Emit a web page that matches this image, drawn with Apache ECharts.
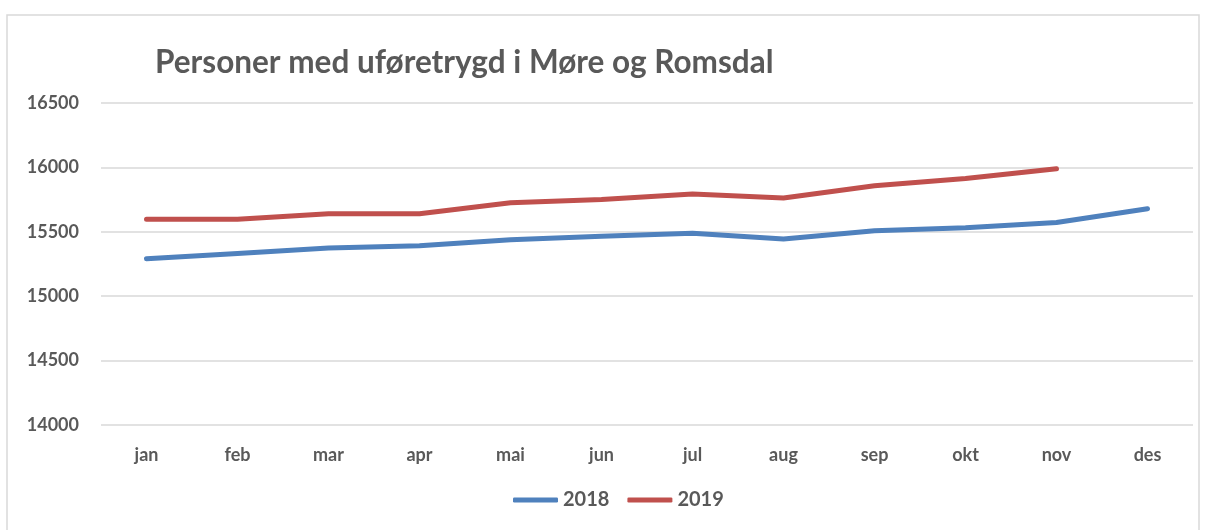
<!DOCTYPE html>
<html>
<head>
<meta charset="utf-8">
<script src="https://cdn.jsdelivr.net/npm/echarts@6/dist/echarts.min.js"></script>
<style>
  html, body { margin: 0; padding: 0; background: #fff; }
  #chart { width: 1205px; height: 530px; }
</style>
</head>
<body>
<div id="chart"></div>
<script>
const months = ['jan', 'feb', 'mar', 'apr', 'mai', 'jun', 'jul', 'aug', 'sep', 'okt', 'nov', 'des'];
const data2018 = [15290, 15332, 15375, 15392, 15438, 15465, 15488, 15444, 15508, 15531, 15572, 15679];
const data2019 = [15597, 15597, 15640, 15640, 15725, 15750, 15794, 15763, 15857, 15913, 15990, null];
const yTicks = [14000, 14500, 15000, 15500, 16000, 16500];

(function () {
    const myChart = echarts.init(document.getElementById('chart'));
    const textColor = '#595959';
    const font = 'Lato';

    const option = {
        animation: false,
        title: {
            text: 'Personer med uføretrygd i Møre og Romsdal',
            left: 150,
            top: 42,
            textStyle: { color: textColor, fontSize: 31.5, fontWeight: 'bold', fontFamily: font }
        },
        graphic: [{
            type: 'rect',
            shape: { x: 7, y: 15, width: 1192, height: 530 },
            style: { fill: 'none', stroke: '#d9d9d9', lineWidth: 1.5 },
            silent: true
        }],
        legend: {
            bottom: 15,
            left: 508,
            itemWidth: 45,
            itemHeight: 5,
            itemGap: 18,
            icon: 'roundRect',
            textStyle: { color: textColor, fontSize: 20, fontWeight: 'bold', fontFamily: font },
            data: ['2018', '2019']
        },
        grid: { left: 101, right: 12, top: 103, bottom: 105 },
        xAxis: {
            type: 'category',
            data: months,
            axisLine: { show: false },
            axisTick: { show: false },
            axisLabel: { color: textColor, fontSize: 18, fontWeight: 'bold', fontFamily: font, margin: 21 }
        },
        yAxis: {
            type: 'value',
            min: yTicks[0],
            max: yTicks[yTicks.length - 1],
            interval: 500,
            axisLabel: {
                color: textColor, fontSize: 18, fontWeight: 'bold', fontFamily: font, margin: 22,
                formatter: function (v) { return String(v); }
            },
            splitLine: { lineStyle: { color: '#d9d9d9', width: 1.5 } }
        },
        series: [
            {
                name: '2018',
                type: 'line',
                data: data2018,
                symbol: 'none',
                lineStyle: { width: 5, cap: 'round', join: 'round' },
                color: '#4f81bd'
            },
            {
                name: '2019',
                type: 'line',
                data: data2019,
                symbol: 'none',
                lineStyle: { width: 5, cap: 'round', join: 'round' },
                color: '#c0504d'
            }
        ]
    };

    myChart.setOption(option);
    window.addEventListener('resize', function () {
        myChart.resize();
    });
})();
</script>
</body>
</html>
